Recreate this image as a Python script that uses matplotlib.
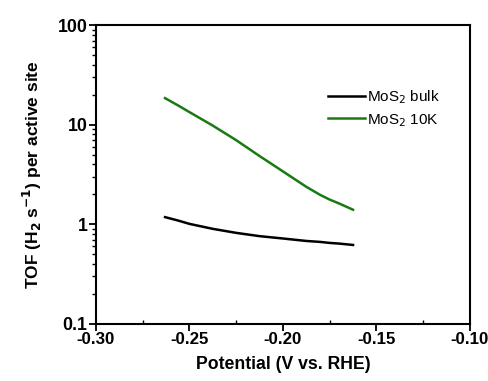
import matplotlib
matplotlib.use("Agg")
import matplotlib.pyplot as plt
import numpy as np

plt.rcParams['font.family'] = ['Liberation Sans', 'DejaVu Sans']

potential = [-0.263, -0.256, -0.25, -0.2375, -0.225, -0.2125, -0.20, -0.1875, -0.18, -0.175, -0.17, -0.1625]
tof_bulk = [1.18, 1.09, 1.01, 0.90, 0.82, 0.76, 0.72, 0.68, 0.665, 0.65, 0.64, 0.62]
tof_10k = [18.5, 15.6, 13.4, 9.8, 7.0, 4.85, 3.4, 2.38, 1.97, 1.77, 1.62, 1.40]

series_labels = ["MoS$_2$ bulk", "MoS$_2$ 10K"]
xticks = [-0.30, -0.25, -0.20, -0.15, -0.10]
xtick_labels = ["-0.30", "-0.25", "-0.20", "-0.15", "-0.10"]
yticks = [0.1, 1, 10, 100]
ytick_labels = ["0.1", "1", "10", "100"]

fig = plt.figure(figsize=(4.89, 3.81), dpi=100)
ax = fig.add_axes([0.196, 0.150, 0.765, 0.784])

ax.plot(potential, tof_bulk, color='black', lw=1.8, label=series_labels[0])
ax.plot(potential, tof_10k, color='#1a7a12', lw=1.8, label=series_labels[1])

ax.set_yscale('log')
ax.set_xlim(-0.30, -0.10)
ax.set_ylim(0.1, 100)
ax.set_xticks(xticks)
ax.set_xticklabels(xtick_labels, fontweight='bold', fontsize=12.2)
ax.set_xticks([-0.275, -0.225, -0.175, -0.125], minor=True)
ax.set_yticks(yticks)
ax.set_yticklabels(ytick_labels, fontweight='bold', fontsize=12.8)

for s in ax.spines.values():
    s.set_linewidth(1.5)
ax.tick_params(which='major', direction='out', length=5, width=1.3, top=False, right=False, pad=1)
ax.tick_params(axis='y', which='minor', direction='out', length=3, width=1.0, right=False)
ax.tick_params(axis='x', which='minor', direction='in', length=3, width=1.0, top=False)

ax.set_xlabel("Potential (V vs. RHE)", fontweight='bold', fontsize=12.7, labelpad=6)
ax.set_ylabel("TOF (H$_\\mathbf{2}$ s$^\\mathbf{-1}$) per active site", fontweight='bold', fontsize=12.5, labelpad=10)

leg = ax.legend(loc='upper left', bbox_to_anchor=(0.605, 0.81), frameon=False, fontsize=11,
                handlelength=2.4, handletextpad=0.15, labelspacing=0.4, borderaxespad=0)

fig.savefig("out.png", dpi=100)
